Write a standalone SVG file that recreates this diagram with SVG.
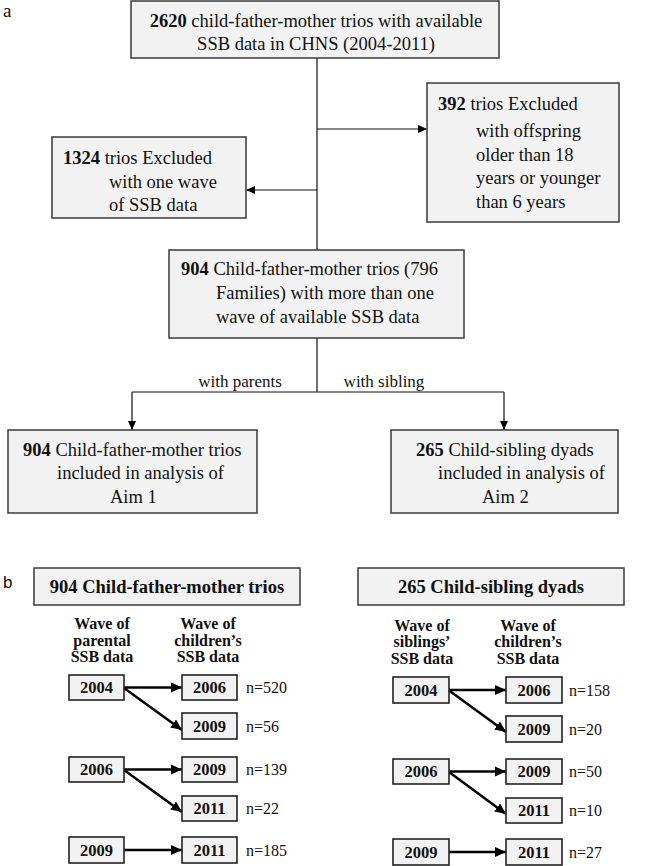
<svg xmlns="http://www.w3.org/2000/svg" width="646" height="866" viewBox="0 0 646 866">
<defs>
<style>
.box{fill:#f2f2f2;stroke:#3a3a3a;stroke-width:1.5}
.ybox{fill:#f2f2f2;stroke:#222;stroke-width:1.6}
.t{font-family:"Liberation Serif","Tinos","Times New Roman",serif;font-size:18.5px;fill:#111}
.lbl{font-family:"Liberation Serif","Tinos","Times New Roman",serif;font-size:17px;fill:#111;text-anchor:middle}
.b{font-weight:bold}
.h{font-family:"Liberation Serif","Tinos","Times New Roman",serif;font-size:16px;font-weight:bold;fill:#111;text-anchor:middle}
.y{font-family:"Liberation Serif","Tinos","Times New Roman",serif;font-size:16.5px;font-weight:bold;fill:#111;text-anchor:middle}
.n{font-family:"Liberation Serif","Tinos","Times New Roman",serif;font-size:16px;fill:#111}
.c{text-anchor:middle}
.ln{stroke:#111;stroke-width:1.2;fill:none}
.thk{stroke:#000;stroke-width:2.5;fill:none}
</style>
<marker id="ah" markerUnits="userSpaceOnUse" markerWidth="10" markerHeight="10" refX="9" refY="5" orient="auto">
<path d="M0,1 L9,5 L0,9 Z" fill="#000"/>
</marker>
<marker id="ahb" markerUnits="userSpaceOnUse" markerWidth="12" markerHeight="12" refX="11" refY="6" orient="auto">
<path d="M0,1 L11,6 L0,11 Z" fill="#000"/>
</marker>
</defs>

<text class="t" x="3" y="17" style="font-size:19px">a</text>
<text x="3" y="588" font-family="Liberation Sans, Arial, sans-serif" font-size="17" fill="#111">b</text>

<g id="connectors">
<line class="ln" x1="317" y1="58" x2="317" y2="250"/>
<line class="ln" x1="317" y1="129" x2="427" y2="129" marker-end="url(#ah)"/>
<line class="ln" x1="317" y1="190" x2="246" y2="190" marker-end="url(#ah)"/>
<line class="ln" x1="317" y1="338" x2="317" y2="392"/>
<line class="ln" x1="132" y1="392" x2="504" y2="392"/>
<line class="ln" x1="132" y1="392" x2="132" y2="430" marker-end="url(#ah)"/>
<line class="ln" x1="504" y1="392" x2="504" y2="430" marker-end="url(#ah)"/>
<text class="lbl" x="240" y="387">with parents</text>
<text class="lbl" x="384" y="387">with sibling</text>

<line class="thk" x1="124" y1="687.5" x2="182" y2="687.5" marker-end="url(#ahb)"/>
<line class="thk" x1="124" y1="688" x2="182" y2="730" marker-end="url(#ahb)"/>
<line class="thk" x1="124" y1="769.5" x2="182" y2="769.5" marker-end="url(#ahb)"/>
<line class="thk" x1="124" y1="770" x2="182" y2="812" marker-end="url(#ahb)"/>
<line class="thk" x1="124" y1="850" x2="182" y2="850" marker-end="url(#ahb)"/>

<line class="thk" x1="449" y1="690" x2="506" y2="690" marker-end="url(#ahb)"/>
<line class="thk" x1="449" y1="690.5" x2="506" y2="732" marker-end="url(#ahb)"/>
<line class="thk" x1="449" y1="771.5" x2="506" y2="771.5" marker-end="url(#ahb)"/>
<line class="thk" x1="449" y1="772" x2="506" y2="814" marker-end="url(#ahb)"/>
<line class="thk" x1="449" y1="852" x2="506" y2="852" marker-end="url(#ahb)"/>
</g>

<g id="n2620">
<rect class="box" x="131" y="1" width="368" height="57"/>
<text class="t c" x="316" y="27"><tspan class="b">2620</tspan> child-father-mother trios with available</text>
<text class="t c" x="316" y="50">SSB data in CHNS (2004-2011)</text>
</g>

<g id="n392">
<rect class="box" x="427" y="83" width="192" height="139"/>
<text class="t" x="438" y="110"><tspan class="b">392</tspan> trios Excluded</text>
<text class="t" x="476" y="137">with offspring</text>
<text class="t" x="476" y="161">older than 18</text>
<text class="t" x="476" y="184">years or younger</text>
<text class="t" x="476" y="208">than 6 years</text>
</g>

<g id="n1324">
<rect class="box" x="52" y="137" width="194" height="81"/>
<text class="t" x="63" y="164"><tspan class="b">1324</tspan> trios Excluded</text>
<text class="t" x="109" y="188">with one wave</text>
<text class="t" x="109" y="211">of SSB data</text>
</g>

<g id="n904">
<rect class="box" x="169" y="250" width="295" height="88"/>
<text class="t" x="181" y="275"><tspan class="b">904</tspan> Child-father-mother trios (796</text>
<text class="t" x="216" y="299">Families) with more than one</text>
<text class="t" x="216" y="323">wave of available SSB data</text>
</g>

<g id="aim1">
<rect class="box" x="8" y="430" width="249" height="83"/>
<text class="t" x="23" y="456"><tspan class="b">904</tspan> Child-father-mother trios</text>
<text class="t" x="57" y="479">included in analysis of</text>
<text class="t" x="110" y="503">Aim 1</text>
</g>

<g id="aim2">
<rect class="box" x="391" y="430" width="227" height="83"/>
<text class="t" x="416" y="456"><tspan class="b">265</tspan> Child-sibling dyads</text>
<text class="t" x="438" y="479">included in analysis of</text>
<text class="t" x="482" y="503">Aim 2</text>
</g>

<g id="hdr-left">
<rect class="box" x="34" y="568" width="266" height="37"/>
<text class="t b c" x="167" y="593">904 Child-father-mother trios</text>
<text class="h" x="102" y="629">Wave of</text>
<text class="h" x="102" y="646">parental</text>
<text class="h" x="102" y="662">SSB data</text>
<text class="h" x="208" y="629">Wave of</text>
<text class="h" x="208" y="646">children’s</text>
<text class="h" x="208" y="662">SSB data</text>
</g>

<g id="hdr-right">
<rect class="box" x="358" y="568" width="266" height="37"/>
<text class="t b c" x="491" y="593">265 Child-sibling dyads</text>
<text class="h" x="422" y="631">Wave of</text>
<text class="h" x="422" y="647">siblings’</text>
<text class="h" x="422" y="664">SSB data</text>
<text class="h" x="528" y="631">Wave of</text>
<text class="h" x="528" y="647">children’s</text>
<text class="h" x="528" y="664">SSB data</text>
</g>

<g id="L-p2004"><rect class="ybox" x="69" y="675" width="55" height="25"/><text class="y" x="96.5" y="693">2004</text></g>
<g id="L-c2006a"><rect class="ybox" x="182" y="675" width="55" height="25"/><text class="y" x="209.5" y="693">2006</text><text class="n" x="246" y="693">n=520</text></g>
<g id="L-c2009a"><rect class="ybox" x="182" y="713" width="55" height="26"/><text class="y" x="209.5" y="732">2009</text><text class="n" x="246" y="732">n=56</text></g>
<g id="L-p2006"><rect class="ybox" x="69" y="757" width="55" height="25"/><text class="y" x="96.5" y="775">2006</text></g>
<g id="L-c2009b"><rect class="ybox" x="182" y="757" width="55" height="25"/><text class="y" x="209.5" y="775">2009</text><text class="n" x="246" y="775">n=139</text></g>
<g id="L-c2011a"><rect class="ybox" x="182" y="796" width="55" height="25"/><text class="y" x="209.5" y="814">2011</text><text class="n" x="246" y="814">n=22</text></g>
<g id="L-p2009"><rect class="ybox" x="69" y="837" width="55" height="26"/><text class="y" x="96.5" y="856">2009</text></g>
<g id="L-c2011b"><rect class="ybox" x="182" y="837" width="55" height="26"/><text class="y" x="209.5" y="856">2011</text><text class="n" x="246" y="856">n=185</text></g>

<g id="R-p2004"><rect class="ybox" x="393" y="677" width="56" height="26"/><text class="y" x="421" y="696">2004</text></g>
<g id="R-c2006a"><rect class="ybox" x="506" y="677" width="56" height="26"/><text class="y" x="534" y="696">2006</text><text class="n" x="569" y="696">n=158</text></g>
<g id="R-c2009a"><rect class="ybox" x="506" y="716" width="56" height="26"/><text class="y" x="534" y="735">2009</text><text class="n" x="569" y="735">n=20</text></g>
<g id="R-p2006"><rect class="ybox" x="393" y="759" width="56" height="25"/><text class="y" x="421" y="777">2006</text></g>
<g id="R-c2009b"><rect class="ybox" x="506" y="759" width="56" height="25"/><text class="y" x="534" y="777">2009</text><text class="n" x="569" y="777">n=50</text></g>
<g id="R-c2011a"><rect class="ybox" x="506" y="798" width="56" height="25"/><text class="y" x="534" y="816">2011</text><text class="n" x="569" y="816">n=10</text></g>
<g id="R-p2009"><rect class="ybox" x="393" y="839" width="56" height="26"/><text class="y" x="421" y="858">2009</text></g>
<g id="R-c2011b"><rect class="ybox" x="506" y="839" width="56" height="26"/><text class="y" x="534" y="858">2011</text><text class="n" x="569" y="858">n=27</text></g>
</svg>
